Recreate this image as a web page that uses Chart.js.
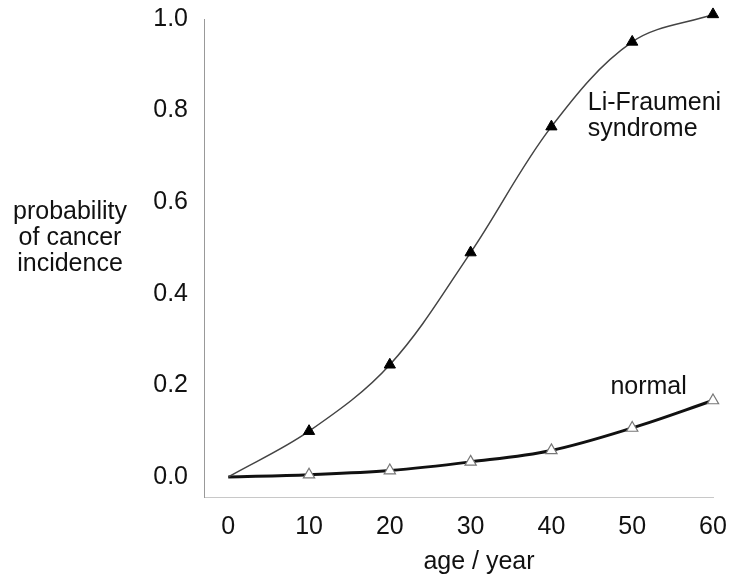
<!DOCTYPE html>
<html>
<head>
<meta charset="utf-8">
<script src="https://cdn.jsdelivr.net/npm/chart.js"></script>
<style>
  html, body { margin: 0; padding: 0; background: #fff; }
  #wrap { width: 735px; height: 577px; }
</style>
</head>
<body>
<div id="wrap"><canvas id="chart" width="735" height="577"></canvas></div>
<script>
// valores
const ages = [0, 10, 20, 30, 40, 50, 60];
const liFraumeni = [0, 0.10, 0.245, 0.49, 0.765, 0.95, 1.01];
const normal = [0, 0.005, 0.014, 0.033, 0.058, 0.107, 0.167];
const xTicks = [0, 10, 20, 30, 40, 50, 60];
const yTicks = [0, 0.2, 0.4, 0.6, 0.8, 1.0];

const FONT = '"Liberation Sans", Arial, sans-serif';
const INK = '#111';

// textos fora dos eixos: título do eixo y, do eixo x e nomes das curvas
const labelsPlugin = {
    id: 'labels',
    afterDraw(chart) {
        const ctx = chart.ctx;
        const x = chart.scales.x;
        const y = chart.scales.y;
        ctx.save();
        ctx.fillStyle = INK;
        ctx.font = '25px ' + FONT;
        ctx.textBaseline = 'middle';

        ctx.textAlign = 'center';
        ['probability', 'of cancer', 'incidence'].forEach((t, i) => {
            ctx.fillText(t, 70, 212 + i * 26);
        });
        ctx.fillText('age / year', 479, 562);

        ctx.textAlign = 'left';
        ctx.fillText('Li-Fraumeni', x.getPixelForValue(44.5), y.getPixelForValue(0.817));
        ctx.fillText('syndrome', x.getPixelForValue(44.5), y.getPixelForValue(0.76));
        ctx.fillText('normal', x.getPixelForValue(47.3), y.getPixelForValue(0.197));
        ctx.restore();
    }
};

const ctx = document.getElementById('chart').getContext('2d');
new Chart(ctx, {
    type: 'line',
    data: {
        datasets: [
            {
                label: 'Li-Fraumeni syndrome',
                data: ages.map((a, i) => ({ x: a, y: liFraumeni[i] })),
                borderColor: '#444',
                borderWidth: 1.5,
                tension: 0.35,
                pointStyle: 'triangle',
                pointRadius: [0, 6.5, 6.5, 6.5, 6.5, 6.5, 6.5],
                pointBackgroundColor: '#000',
                pointBorderColor: '#000',
                pointBorderWidth: 1,
                clip: false
            },
            {
                label: 'normal',
                data: ages.map((a, i) => ({ x: a, y: normal[i] })),
                borderColor: '#111',
                borderWidth: 3,
                tension: 0.35,
                pointStyle: 'triangle',
                pointRadius: [0, 6.5, 6.5, 6.5, 6.5, 6.5, 6.5],
                pointBackgroundColor: '#fff',
                pointBorderColor: '#777',
                pointBorderWidth: 1.2,
                clip: false
            }
        ]
    },
    options: {
        responsive: false,
        animation: false,
        layout: { padding: { top: 19, right: 22, left: 0, bottom: 0 } },
        plugins: {
            legend: { display: false },
            tooltip: { enabled: false }
        },
        scales: {
            x: {
                type: 'linear',
                min: -3,
                max: 60,
                afterBuildTicks: (s) => { s.ticks = xTicks.map(v => ({ value: v })); },
                afterFit: (s) => { s.height = 80; s.paddingLeft = 0; s.paddingRight = 0; },
                grid: { display: false, drawTicks: false },
                border: { display: true, color: '#c8c8c8', width: 1, dash: [2, 3] },
                ticks: {
                    padding: 15,
                    color: INK,
                    font: { family: FONT, size: 25 },
                    maxRotation: 0,
                    callback: (v) => String(v)
                }
            },
            y: {
                min: -0.0437,
                max: 1.0,
                afterBuildTicks: (s) => { s.ticks = yTicks.map(v => ({ value: v })); },
                afterFit: (s) => { s.width = 204; s.paddingTop = 0; s.paddingBottom = 0; },
                grid: { display: false, drawTicks: false },
                border: { display: true, color: '#999', width: 1, dash: [1, 1] },
                ticks: {
                    padding: 16,
                    color: INK,
                    font: { family: FONT, size: 25 },
                    callback: (v) => v.toFixed(1)
                }
            }
        }
    },
    plugins: [labelsPlugin]
});
</script>
</body>
</html>
